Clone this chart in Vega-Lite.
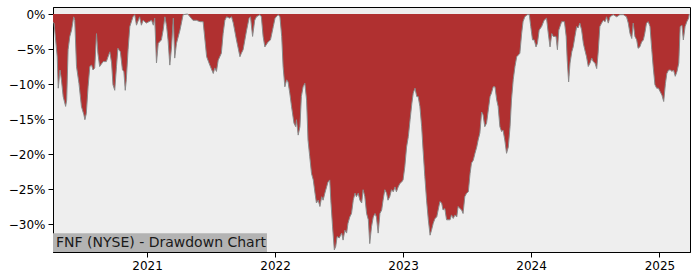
{
  "$schema": "https://vega.github.io/schema/vega-lite/v6.json",
  "width": 637,
  "height": 245,
  "autosize": {"type": "none"},
  "padding": {"left": 53, "top": 7, "right": 10, "bottom": 28},
  "background": "white",
  "view": {"fill": "#eeeeee", "stroke": "black", "strokeWidth": 1},
  "config": {
    "font": "DejaVu Sans",
    "view": {"fill": "#eeeeee", "stroke": "black", "strokeWidth": 1},
    "axis": {
      "labelFont": "DejaVu Sans",
      "labelFontSize": 12,
      "labelColor": "black",
      "domainColor": "black",
      "tickColor": "black",
      "tickSize": 5,
      "grid": false,
      "title": null
    }
  },
  "layer": [
    {
      "data": {
        "values": [
          {"date": "2020-04-08", "dd": -0.012},
          {"date": "2020-04-11", "dd": -0.013},
          {"date": "2020-04-20", "dd": -0.061},
          {"date": "2020-04-23", "dd": -0.106},
          {"date": "2020-04-28", "dd": -0.080},
          {"date": "2020-05-02", "dd": -0.094},
          {"date": "2020-05-07", "dd": -0.118},
          {"date": "2020-05-14", "dd": -0.132},
          {"date": "2020-05-17", "dd": -0.123},
          {"date": "2020-05-21", "dd": -0.051},
          {"date": "2020-05-26", "dd": -0.032},
          {"date": "2020-05-31", "dd": -0.023},
          {"date": "2020-06-06", "dd": -0.004},
          {"date": "2020-06-09", "dd": -0.009},
          {"date": "2020-06-14", "dd": -0.075},
          {"date": "2020-06-21", "dd": -0.099},
          {"date": "2020-06-28", "dd": -0.132},
          {"date": "2020-07-05", "dd": -0.144},
          {"date": "2020-07-08", "dd": -0.151},
          {"date": "2020-07-12", "dd": -0.142},
          {"date": "2020-07-17", "dd": -0.104},
          {"date": "2020-07-22", "dd": -0.075},
          {"date": "2020-07-27", "dd": -0.073},
          {"date": "2020-07-31", "dd": -0.080},
          {"date": "2020-08-05", "dd": -0.077},
          {"date": "2020-08-10", "dd": -0.028},
          {"date": "2020-08-14", "dd": -0.056},
          {"date": "2020-08-19", "dd": -0.075},
          {"date": "2020-08-29", "dd": -0.068},
          {"date": "2020-09-07", "dd": -0.068},
          {"date": "2020-09-17", "dd": -0.054},
          {"date": "2020-09-22", "dd": -0.070},
          {"date": "2020-09-26", "dd": -0.101},
          {"date": "2020-10-01", "dd": -0.109},
          {"date": "2020-10-06", "dd": -0.075},
          {"date": "2020-10-10", "dd": -0.049},
          {"date": "2020-10-17", "dd": -0.054},
          {"date": "2020-10-23", "dd": -0.080},
          {"date": "2020-10-27", "dd": -0.082},
          {"date": "2020-10-31", "dd": -0.109},
          {"date": "2020-11-03", "dd": -0.094},
          {"date": "2020-11-08", "dd": -0.051},
          {"date": "2020-11-13", "dd": -0.018},
          {"date": "2020-11-22", "dd": -0.004},
          {"date": "2020-11-27", "dd": -0.001},
          {"date": "2020-12-02", "dd": -0.016},
          {"date": "2020-12-11", "dd": -0.004},
          {"date": "2020-12-16", "dd": -0.016},
          {"date": "2020-12-21", "dd": -0.009},
          {"date": "2020-12-30", "dd": -0.013},
          {"date": "2021-01-14", "dd": -0.009},
          {"date": "2021-01-19", "dd": -0.016},
          {"date": "2021-01-23", "dd": -0.006},
          {"date": "2021-01-28", "dd": -0.070},
          {"date": "2021-02-02", "dd": -0.042},
          {"date": "2021-02-11", "dd": -0.037},
          {"date": "2021-02-16", "dd": -0.023},
          {"date": "2021-02-21", "dd": -0.004},
          {"date": "2021-02-26", "dd": -0.018},
          {"date": "2021-03-02", "dd": -0.037},
          {"date": "2021-03-07", "dd": -0.073},
          {"date": "2021-03-12", "dd": -0.047},
          {"date": "2021-03-17", "dd": -0.006},
          {"date": "2021-03-21", "dd": -0.063},
          {"date": "2021-03-26", "dd": -0.042},
          {"date": "2021-04-05", "dd": -0.023},
          {"date": "2021-04-14", "dd": -0.001},
          {"date": "2021-04-27", "dd": 0.0},
          {"date": "2021-05-12", "dd": -0.009},
          {"date": "2021-05-22", "dd": -0.009},
          {"date": "2021-06-01", "dd": -0.011},
          {"date": "2021-06-10", "dd": -0.011},
          {"date": "2021-06-20", "dd": -0.061},
          {"date": "2021-06-29", "dd": -0.073},
          {"date": "2021-07-09", "dd": -0.085},
          {"date": "2021-07-13", "dd": -0.077},
          {"date": "2021-07-18", "dd": -0.082},
          {"date": "2021-07-23", "dd": -0.066},
          {"date": "2021-08-01", "dd": -0.056},
          {"date": "2021-08-06", "dd": -0.028},
          {"date": "2021-08-11", "dd": -0.009},
          {"date": "2021-08-16", "dd": -0.004},
          {"date": "2021-08-25", "dd": -0.006},
          {"date": "2021-08-30", "dd": -0.004},
          {"date": "2021-09-04", "dd": -0.013},
          {"date": "2021-09-13", "dd": -0.037},
          {"date": "2021-09-23", "dd": -0.061},
          {"date": "2021-09-27", "dd": -0.056},
          {"date": "2021-10-02", "dd": -0.051},
          {"date": "2021-10-12", "dd": -0.023},
          {"date": "2021-10-19", "dd": -0.006},
          {"date": "2021-10-23", "dd": -0.004},
          {"date": "2021-10-29", "dd": -0.032},
          {"date": "2021-11-04", "dd": -0.009},
          {"date": "2021-11-09", "dd": -0.004},
          {"date": "2021-11-19", "dd": -0.001},
          {"date": "2021-11-23", "dd": -0.004},
          {"date": "2021-11-28", "dd": -0.032},
          {"date": "2021-12-03", "dd": -0.047},
          {"date": "2021-12-12", "dd": -0.040},
          {"date": "2021-12-19", "dd": -0.037},
          {"date": "2021-12-27", "dd": -0.018},
          {"date": "2022-01-01", "dd": -0.006},
          {"date": "2022-01-10", "dd": -0.001},
          {"date": "2022-01-15", "dd": -0.004},
          {"date": "2022-01-20", "dd": -0.032},
          {"date": "2022-01-24", "dd": -0.075},
          {"date": "2022-01-29", "dd": -0.104},
          {"date": "2022-02-03", "dd": -0.094},
          {"date": "2022-02-07", "dd": -0.097},
          {"date": "2022-02-12", "dd": -0.113},
          {"date": "2022-02-17", "dd": -0.132},
          {"date": "2022-02-24", "dd": -0.156},
          {"date": "2022-03-01", "dd": -0.161},
          {"date": "2022-03-03", "dd": -0.151},
          {"date": "2022-03-08", "dd": -0.173},
          {"date": "2022-03-13", "dd": -0.161},
          {"date": "2022-03-17", "dd": -0.118},
          {"date": "2022-03-22", "dd": -0.104},
          {"date": "2022-03-27", "dd": -0.099},
          {"date": "2022-04-01", "dd": -0.123},
          {"date": "2022-04-05", "dd": -0.180},
          {"date": "2022-04-10", "dd": -0.204},
          {"date": "2022-04-15", "dd": -0.228},
          {"date": "2022-04-20", "dd": -0.237},
          {"date": "2022-04-25", "dd": -0.256},
          {"date": "2022-04-29", "dd": -0.270},
          {"date": "2022-05-04", "dd": -0.266},
          {"date": "2022-05-09", "dd": -0.275},
          {"date": "2022-05-14", "dd": -0.261},
          {"date": "2022-05-18", "dd": -0.266},
          {"date": "2022-05-23", "dd": -0.256},
          {"date": "2022-05-28", "dd": -0.247},
          {"date": "2022-06-01", "dd": -0.240},
          {"date": "2022-06-06", "dd": -0.237},
          {"date": "2022-06-09", "dd": -0.266},
          {"date": "2022-06-14", "dd": -0.304},
          {"date": "2022-06-19", "dd": -0.337},
          {"date": "2022-06-23", "dd": -0.332},
          {"date": "2022-06-27", "dd": -0.318},
          {"date": "2022-07-03", "dd": -0.320},
          {"date": "2022-07-10", "dd": -0.313},
          {"date": "2022-07-14", "dd": -0.323},
          {"date": "2022-07-19", "dd": -0.309},
          {"date": "2022-07-24", "dd": -0.313},
          {"date": "2022-07-28", "dd": -0.299},
          {"date": "2022-08-02", "dd": -0.290},
          {"date": "2022-08-07", "dd": -0.285},
          {"date": "2022-08-12", "dd": -0.266},
          {"date": "2022-08-17", "dd": -0.256},
          {"date": "2022-08-21", "dd": -0.261},
          {"date": "2022-08-26", "dd": -0.256},
          {"date": "2022-08-31", "dd": -0.266},
          {"date": "2022-09-05", "dd": -0.270},
          {"date": "2022-09-09", "dd": -0.251},
          {"date": "2022-09-14", "dd": -0.261},
          {"date": "2022-09-19", "dd": -0.285},
          {"date": "2022-09-24", "dd": -0.294},
          {"date": "2022-09-28", "dd": -0.328},
          {"date": "2022-10-03", "dd": -0.304},
          {"date": "2022-10-08", "dd": -0.290},
          {"date": "2022-10-13", "dd": -0.285},
          {"date": "2022-10-17", "dd": -0.290},
          {"date": "2022-10-22", "dd": -0.313},
          {"date": "2022-10-27", "dd": -0.285},
          {"date": "2022-11-01", "dd": -0.280},
          {"date": "2022-11-05", "dd": -0.266},
          {"date": "2022-11-10", "dd": -0.251},
          {"date": "2022-11-15", "dd": -0.256},
          {"date": "2022-11-19", "dd": -0.266},
          {"date": "2022-11-24", "dd": -0.261},
          {"date": "2022-11-29", "dd": -0.251},
          {"date": "2022-12-04", "dd": -0.254},
          {"date": "2022-12-09", "dd": -0.247},
          {"date": "2022-12-13", "dd": -0.254},
          {"date": "2022-12-18", "dd": -0.247},
          {"date": "2022-12-23", "dd": -0.242},
          {"date": "2022-12-28", "dd": -0.240},
          {"date": "2023-01-01", "dd": -0.237},
          {"date": "2023-01-06", "dd": -0.218},
          {"date": "2023-01-11", "dd": -0.190},
          {"date": "2023-01-16", "dd": -0.175},
          {"date": "2023-01-21", "dd": -0.151},
          {"date": "2023-01-26", "dd": -0.128},
          {"date": "2023-01-30", "dd": -0.113},
          {"date": "2023-02-04", "dd": -0.106},
          {"date": "2023-02-09", "dd": -0.118},
          {"date": "2023-02-13", "dd": -0.118},
          {"date": "2023-02-18", "dd": -0.132},
          {"date": "2023-02-23", "dd": -0.161},
          {"date": "2023-02-27", "dd": -0.194},
          {"date": "2023-03-04", "dd": -0.232},
          {"date": "2023-03-09", "dd": -0.266},
          {"date": "2023-03-14", "dd": -0.294},
          {"date": "2023-03-19", "dd": -0.316},
          {"date": "2023-03-23", "dd": -0.309},
          {"date": "2023-03-28", "dd": -0.299},
          {"date": "2023-04-02", "dd": -0.292},
          {"date": "2023-04-07", "dd": -0.290},
          {"date": "2023-04-11", "dd": -0.280},
          {"date": "2023-04-16", "dd": -0.268},
          {"date": "2023-04-21", "dd": -0.270},
          {"date": "2023-04-25", "dd": -0.280},
          {"date": "2023-04-30", "dd": -0.278},
          {"date": "2023-05-05", "dd": -0.294},
          {"date": "2023-05-10", "dd": -0.294},
          {"date": "2023-05-15", "dd": -0.294},
          {"date": "2023-05-19", "dd": -0.287},
          {"date": "2023-05-24", "dd": -0.292},
          {"date": "2023-05-29", "dd": -0.287},
          {"date": "2023-06-03", "dd": -0.290},
          {"date": "2023-06-07", "dd": -0.275},
          {"date": "2023-06-12", "dd": -0.278},
          {"date": "2023-06-17", "dd": -0.280},
          {"date": "2023-06-21", "dd": -0.285},
          {"date": "2023-06-26", "dd": -0.261},
          {"date": "2023-07-01", "dd": -0.256},
          {"date": "2023-07-06", "dd": -0.254},
          {"date": "2023-07-11", "dd": -0.228},
          {"date": "2023-07-15", "dd": -0.213},
          {"date": "2023-07-20", "dd": -0.209},
          {"date": "2023-07-25", "dd": -0.199},
          {"date": "2023-07-30", "dd": -0.190},
          {"date": "2023-08-03", "dd": -0.180},
          {"date": "2023-08-08", "dd": -0.170},
          {"date": "2023-08-13", "dd": -0.140},
          {"date": "2023-08-17", "dd": -0.144},
          {"date": "2023-08-22", "dd": -0.161},
          {"date": "2023-08-27", "dd": -0.156},
          {"date": "2023-09-01", "dd": -0.137},
          {"date": "2023-09-06", "dd": -0.118},
          {"date": "2023-09-10", "dd": -0.113},
          {"date": "2023-09-15", "dd": -0.104},
          {"date": "2023-09-20", "dd": -0.104},
          {"date": "2023-09-25", "dd": -0.123},
          {"date": "2023-09-29", "dd": -0.132},
          {"date": "2023-10-04", "dd": -0.161},
          {"date": "2023-10-09", "dd": -0.168},
          {"date": "2023-10-13", "dd": -0.166},
          {"date": "2023-10-18", "dd": -0.180},
          {"date": "2023-10-23", "dd": -0.199},
          {"date": "2023-10-28", "dd": -0.190},
          {"date": "2023-11-02", "dd": -0.161},
          {"date": "2023-11-06", "dd": -0.123},
          {"date": "2023-11-11", "dd": -0.094},
          {"date": "2023-11-16", "dd": -0.075},
          {"date": "2023-11-21", "dd": -0.061},
          {"date": "2023-11-25", "dd": -0.059},
          {"date": "2023-11-30", "dd": -0.056},
          {"date": "2023-12-05", "dd": -0.028},
          {"date": "2023-12-09", "dd": -0.011},
          {"date": "2023-12-14", "dd": -0.004},
          {"date": "2023-12-21", "dd": -0.001},
          {"date": "2023-12-27", "dd": -0.001},
          {"date": "2023-12-31", "dd": -0.018},
          {"date": "2024-01-05", "dd": -0.037},
          {"date": "2024-01-10", "dd": -0.037},
          {"date": "2024-01-15", "dd": -0.047},
          {"date": "2024-01-19", "dd": -0.042},
          {"date": "2024-01-24", "dd": -0.023},
          {"date": "2024-01-31", "dd": -0.018},
          {"date": "2024-02-07", "dd": -0.009},
          {"date": "2024-02-14", "dd": -0.006},
          {"date": "2024-02-19", "dd": -0.028},
          {"date": "2024-02-24", "dd": -0.047},
          {"date": "2024-02-29", "dd": -0.028},
          {"date": "2024-03-04", "dd": -0.032},
          {"date": "2024-03-12", "dd": -0.032},
          {"date": "2024-03-16", "dd": -0.051},
          {"date": "2024-03-20", "dd": -0.023},
          {"date": "2024-03-28", "dd": -0.011},
          {"date": "2024-04-05", "dd": -0.011},
          {"date": "2024-04-10", "dd": -0.032},
          {"date": "2024-04-13", "dd": -0.066},
          {"date": "2024-04-17", "dd": -0.097},
          {"date": "2024-04-21", "dd": -0.070},
          {"date": "2024-04-26", "dd": -0.054},
          {"date": "2024-04-30", "dd": -0.047},
          {"date": "2024-05-05", "dd": -0.032},
          {"date": "2024-05-10", "dd": -0.018},
          {"date": "2024-05-14", "dd": -0.020},
          {"date": "2024-05-19", "dd": -0.013},
          {"date": "2024-05-24", "dd": -0.023},
          {"date": "2024-05-29", "dd": -0.042},
          {"date": "2024-06-02", "dd": -0.051},
          {"date": "2024-06-07", "dd": -0.061},
          {"date": "2024-06-12", "dd": -0.075},
          {"date": "2024-06-17", "dd": -0.070},
          {"date": "2024-06-22", "dd": -0.063},
          {"date": "2024-06-26", "dd": -0.068},
          {"date": "2024-07-01", "dd": -0.070},
          {"date": "2024-07-06", "dd": -0.078},
          {"date": "2024-07-10", "dd": -0.056},
          {"date": "2024-07-15", "dd": -0.018},
          {"date": "2024-07-20", "dd": -0.013},
          {"date": "2024-07-25", "dd": -0.009},
          {"date": "2024-07-30", "dd": -0.011},
          {"date": "2024-08-03", "dd": -0.004},
          {"date": "2024-08-08", "dd": -0.013},
          {"date": "2024-08-13", "dd": -0.004},
          {"date": "2024-08-22", "dd": -0.001},
          {"date": "2024-09-01", "dd": -0.004},
          {"date": "2024-09-10", "dd": -0.001},
          {"date": "2024-09-20", "dd": -0.001},
          {"date": "2024-09-29", "dd": -0.004},
          {"date": "2024-10-04", "dd": -0.013},
          {"date": "2024-10-09", "dd": -0.028},
          {"date": "2024-10-14", "dd": -0.035},
          {"date": "2024-10-18", "dd": -0.013},
          {"date": "2024-10-23", "dd": -0.032},
          {"date": "2024-10-28", "dd": -0.037},
          {"date": "2024-11-01", "dd": -0.049},
          {"date": "2024-11-06", "dd": -0.047},
          {"date": "2024-11-11", "dd": -0.040},
          {"date": "2024-11-16", "dd": -0.037},
          {"date": "2024-11-20", "dd": -0.028},
          {"date": "2024-11-25", "dd": -0.013},
          {"date": "2024-11-30", "dd": -0.011},
          {"date": "2024-12-05", "dd": -0.018},
          {"date": "2024-12-10", "dd": -0.051},
          {"date": "2024-12-14", "dd": -0.075},
          {"date": "2024-12-19", "dd": -0.101},
          {"date": "2024-12-24", "dd": -0.106},
          {"date": "2024-12-29", "dd": -0.106},
          {"date": "2025-01-03", "dd": -0.111},
          {"date": "2025-01-08", "dd": -0.116},
          {"date": "2025-01-13", "dd": -0.125},
          {"date": "2025-01-18", "dd": -0.099},
          {"date": "2025-01-22", "dd": -0.085},
          {"date": "2025-01-27", "dd": -0.080},
          {"date": "2025-02-01", "dd": -0.080},
          {"date": "2025-02-06", "dd": -0.082},
          {"date": "2025-02-10", "dd": -0.080},
          {"date": "2025-02-15", "dd": -0.089},
          {"date": "2025-02-20", "dd": -0.082},
          {"date": "2025-02-25", "dd": -0.070},
          {"date": "2025-03-01", "dd": -0.018},
          {"date": "2025-03-06", "dd": -0.016},
          {"date": "2025-03-10", "dd": -0.037},
          {"date": "2025-03-15", "dd": -0.018},
          {"date": "2025-03-20", "dd": -0.011},
          {"date": "2025-03-25", "dd": -0.006},
          {"date": "2025-03-27", "dd": 0.0}
        ]
      },
      "mark": {"type": "area", "color": "#b03030", "opacity": 1, "fillOpacity": 1, "line": {"color": "#8a8a8a", "strokeWidth": 1}, "clip": true},
      "encoding": {
        "x": {
          "field": "date",
          "type": "temporal",
          "scale": {
            "type": "utc",
            "domain": [
              {"year": 2020, "month": 4, "date": 8, "utc": true},
              {"year": 2025, "month": 3, "date": 29, "utc": true}
            ]
          },
          "axis": {"format": "%Y", "tickCount": {"interval": "year", "step": 1}, "labelPadding": 3}
        },
        "y": {
          "field": "dd",
          "type": "quantitative",
          "scale": {"domain": [-0.34, 0.01], "nice": false, "zero": false},
          "axis": {"values": [0, -0.05, -0.1, -0.15, -0.2, -0.25, -0.3], "format": ".0%", "labelPadding": 3}
        },
        "y2": {"datum": 0}
      }
    },
    {
      "data": {"values": [{"label": "FNF (NYSE) - Drawdown Chart"}]},
      "mark": {"type": "rect", "color": "#b3b3b3", "opacity": 1},
      "encoding": {
        "x": {"datum": {"year": 2020, "month": 4, "date": 8, "utc": true}, "type": "temporal"},
        "x2": {"datum": {"year": 2021, "month": 12, "date": 9, "utc": true}},
        "y": {"datum": -0.34, "type": "quantitative"},
        "y2": {"datum": -0.3133}
      }
    },
    {
      "data": {"values": [{"label": "FNF (NYSE) - Drawdown Chart"}]},
      "mark": {"type": "text", "align": "left", "baseline": "middle", "dx": 3, "fontSize": 14, "font": "DejaVu Sans", "color": "#1a1a1a"},
      "encoding": {
        "x": {"datum": {"year": 2020, "month": 4, "date": 8, "utc": true}, "type": "temporal"},
        "y": {"datum": -0.3265, "type": "quantitative"},
        "text": {"field": "label"}
      }
    }
  ]
}
